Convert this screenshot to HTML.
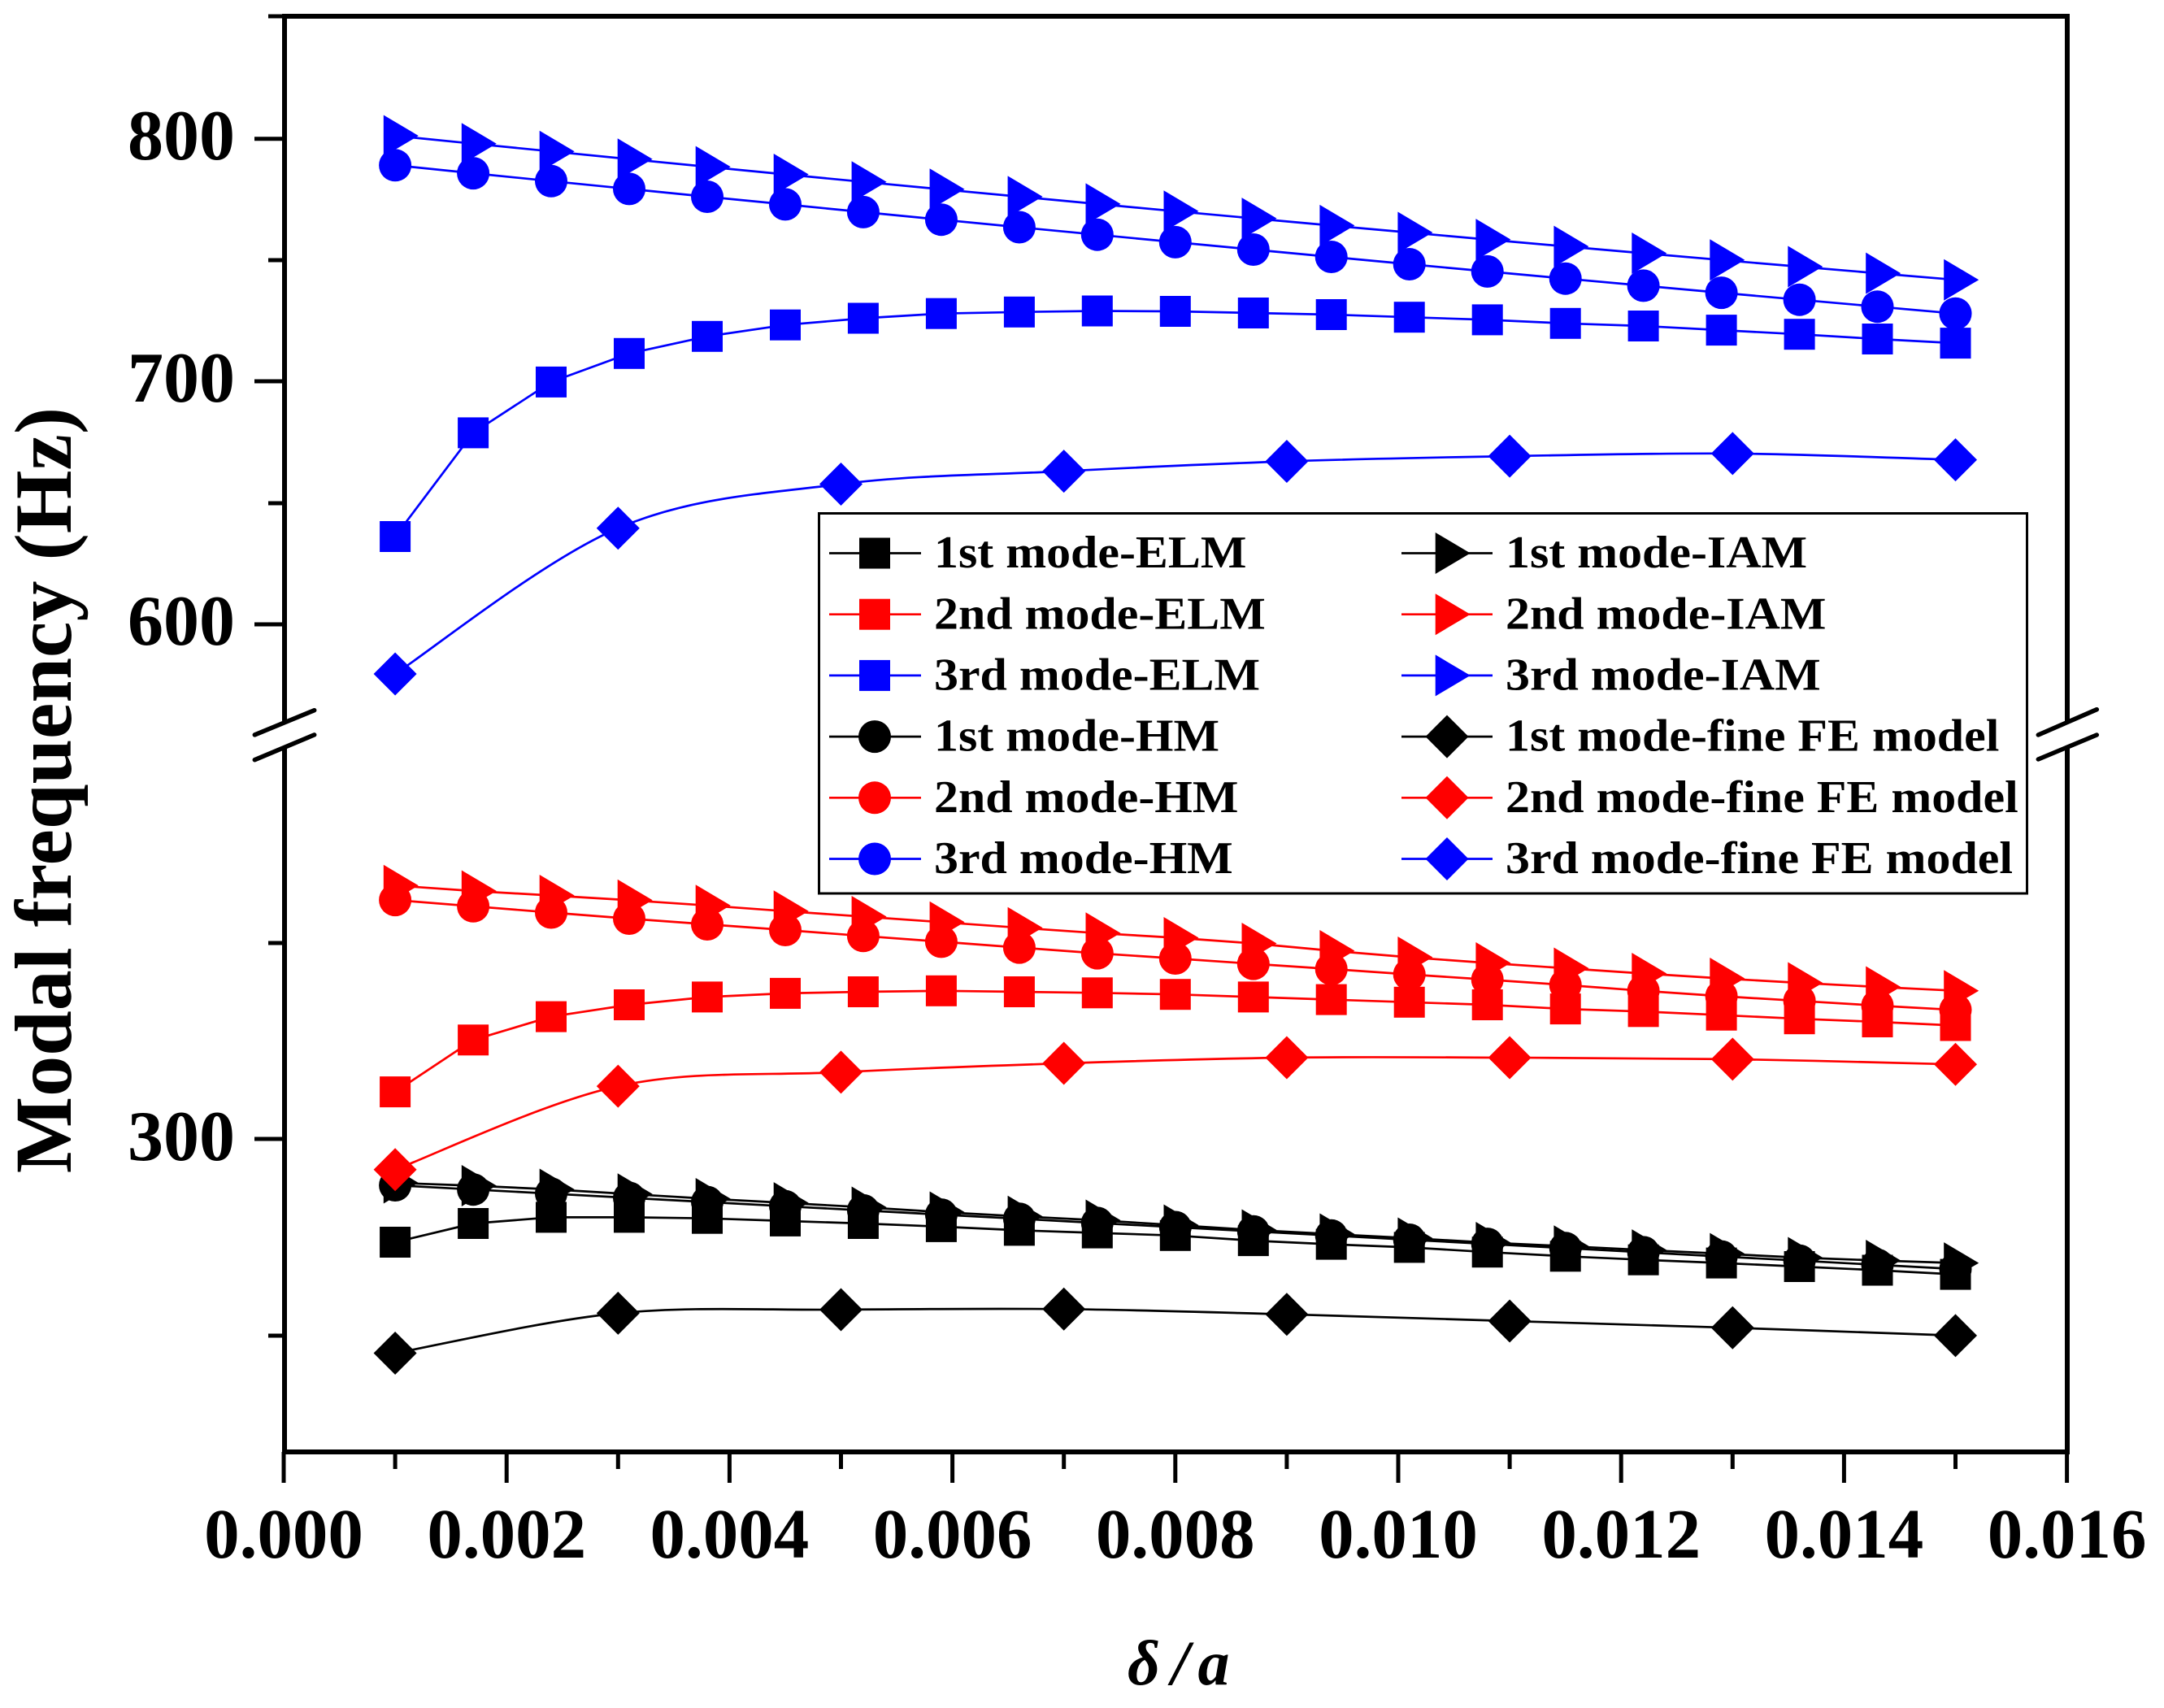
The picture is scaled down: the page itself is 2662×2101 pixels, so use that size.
<!DOCTYPE html>
<html>
<head>
<meta charset="utf-8">
<style>
html,body{margin:0;padding:0;background:#fff;}
svg{display:block;}
text{font-family:"Liberation Serif","DejaVu Serif",serif;font-weight:bold;}
</style>
</head>
<body>
<svg xmlns="http://www.w3.org/2000/svg" width="2662" height="2101" viewBox="0 0 2662 2101">
<defs>
<marker id="sqK" markerUnits="userSpaceOnUse" markerWidth="60" markerHeight="60" refX="30" refY="30" orient="0"><rect x="11" y="11" width="38" height="38" fill="#000"/></marker>
<marker id="sqR" markerUnits="userSpaceOnUse" markerWidth="60" markerHeight="60" refX="30" refY="30" orient="0"><rect x="11" y="11" width="38" height="38" fill="#f00"/></marker>
<marker id="sqB" markerUnits="userSpaceOnUse" markerWidth="60" markerHeight="60" refX="30" refY="30" orient="0"><rect x="11" y="11" width="38" height="38" fill="#00f"/></marker>
<marker id="ciK" markerUnits="userSpaceOnUse" markerWidth="60" markerHeight="60" refX="30" refY="30" orient="0"><circle cx="30" cy="30" r="20" fill="#000"/></marker>
<marker id="ciR" markerUnits="userSpaceOnUse" markerWidth="60" markerHeight="60" refX="30" refY="30" orient="0"><circle cx="30" cy="30" r="20" fill="#f00"/></marker>
<marker id="ciB" markerUnits="userSpaceOnUse" markerWidth="60" markerHeight="60" refX="30" refY="30" orient="0"><circle cx="30" cy="30" r="20" fill="#00f"/></marker>
<marker id="trK" markerUnits="userSpaceOnUse" markerWidth="60" markerHeight="60" refX="30" refY="30" orient="0"><polygon points="15.7,4.5 58.7,30 15.7,55.5" fill="#000"/></marker>
<marker id="trR" markerUnits="userSpaceOnUse" markerWidth="60" markerHeight="60" refX="30" refY="30" orient="0"><polygon points="15.7,4.5 58.7,30 15.7,55.5" fill="#f00"/></marker>
<marker id="trB" markerUnits="userSpaceOnUse" markerWidth="60" markerHeight="60" refX="30" refY="30" orient="0"><polygon points="15.7,4.5 58.7,30 15.7,55.5" fill="#00f"/></marker>
<marker id="diK" markerUnits="userSpaceOnUse" markerWidth="60" markerHeight="60" refX="30" refY="30" orient="0"><polygon points="30,3.5 56.5,30 30,56.5 3.5,30" fill="#000"/></marker>
<marker id="diR" markerUnits="userSpaceOnUse" markerWidth="60" markerHeight="60" refX="30" refY="30" orient="0"><polygon points="30,3.5 56.5,30 30,56.5 3.5,30" fill="#f00"/></marker>
<marker id="diB" markerUnits="userSpaceOnUse" markerWidth="60" markerHeight="60" refX="30" refY="30" orient="0"><polygon points="30,3.5 56.5,30 30,56.5 3.5,30" fill="#00f"/></marker>
</defs>

<rect x="0" y="0" width="2662" height="2101" fill="#fff"/>

<!-- Series: ELM -->
<g fill="none" stroke-width="2.7" stroke-linejoin="round">
<polyline stroke="#000" marker-start="url(#sqK)" marker-mid="url(#sqK)" marker-end="url(#sqK)" points="486.1,1528 582.1,1505 678.0,1497.4 774.0,1497.4 870.0,1498.7 966.0,1501.9 1061.9,1505 1157.9,1508.9 1253.9,1513.4 1349.8,1516.6 1445.8,1519.8 1541.8,1526.1 1637.7,1530.6 1733.7,1534.4 1829.7,1540.2 1925.7,1545.3 2021.6,1549.7 2117.6,1553.6 2213.6,1558 2309.5,1562.5 2405.5,1567.6"/>
<polyline stroke="#f00" marker-start="url(#sqR)" marker-mid="url(#sqR)" marker-end="url(#sqR)" points="486.1,1343.1 582.1,1279.3 678.0,1250.6 774.0,1236 870.0,1226.4 966.0,1221.9 1061.9,1220 1157.9,1218.8 1253.9,1220 1349.8,1221.3 1445.8,1223.2 1541.8,1226.4 1637.7,1229.6 1733.7,1232.8 1829.7,1236 1925.7,1241.1 2021.6,1244.3 2117.6,1248.7 2213.6,1253.2 2309.5,1257 2405.5,1261.5"/>
<polyline stroke="#00f" marker-start="url(#sqB)" marker-mid="url(#sqB)" marker-end="url(#sqB)" points="486.1,660 582.1,532.4 678.0,469.9 774.0,434.8 870.0,413.8 966.0,399.7 1061.9,391.5 1157.9,385.7 1253.9,383.8 1349.8,382.5 1445.8,383 1541.8,385 1637.7,387 1733.7,390.2 1829.7,393.4 1925.7,397.8 2021.6,401 2117.6,406.1 2213.6,411.2 2309.5,417 2405.5,422.1"/>

<!-- HM -->
<polyline stroke="#000" marker-start="url(#ciK)" marker-mid="url(#ciK)" marker-end="url(#ciK)" points="486.1,1458 582.1,1463.2 678.0,1468.3 774.0,1473.5 870.0,1478.6 966.0,1483.8 1061.9,1488.9 1157.9,1494.1 1253.9,1499.2 1349.8,1504.4 1445.8,1509.5 1541.8,1514.7 1637.7,1519.8 1733.7,1525 1829.7,1530.1 1925.7,1535.3 2021.6,1540.4 2117.6,1545.6 2213.6,1550.7 2309.5,1555.9 2405.5,1561"/>
<polyline stroke="#f00" marker-start="url(#ciR)" marker-mid="url(#ciR)" marker-end="url(#ciR)" points="486.1,1107.1 582.1,1114.8 678.0,1122.5 774.0,1130 870.0,1137 966.0,1144 1061.9,1151.3 1157.9,1158.4 1253.9,1165.6 1349.8,1172.6 1445.8,1179 1541.8,1185.6 1637.7,1192 1733.7,1198.6 1829.7,1205 1925.7,1211.6 2021.6,1218.8 2117.6,1225.4 2213.6,1231.2 2309.5,1237 2405.5,1242.3"/>
<polyline stroke="#00f" marker-start="url(#ciB)" marker-mid="url(#ciB)" marker-end="url(#ciB)" points="486.1,203.3 582.1,213.1 678.0,222.8 774.0,232.4 870.0,242 966.0,251.4 1061.9,260.9 1157.9,270.2 1253.9,279.5 1349.8,288.7 1445.8,297.9 1541.8,307 1637.7,316 1733.7,325 1829.7,333.9 1925.7,342.7 2021.6,351.4 2117.6,360.1 2213.6,368.7 2309.5,377.2 2405.5,385.7"/>

<!-- IAM -->
<polyline stroke="#000" marker-start="url(#trK)" marker-mid="url(#trK)" marker-end="url(#trK)" points="486.1,1455 582.1,1458.5 678.0,1463 774.0,1468.8 870.0,1474.5 966.0,1479.6 1061.9,1485 1157.9,1491 1253.9,1496.2 1349.8,1501 1445.8,1507 1541.8,1513 1637.7,1518 1733.7,1523 1829.7,1528.5 1925.7,1532.8 2021.6,1537.6 2117.6,1542.1 2213.6,1547 2309.5,1550.5 2405.5,1553.6"/>
<polyline stroke="#f00" marker-start="url(#trR)" marker-mid="url(#trR)" marker-end="url(#trR)" points="486.1,1089.3 582.1,1096 678.0,1101.5 774.0,1107.3 870.0,1113.8 966.0,1120.8 1061.9,1127.5 1157.9,1134.3 1253.9,1141.2 1349.8,1147.8 1445.8,1153.5 1541.8,1160.5 1637.7,1169.5 1733.7,1177.5 1829.7,1184.5 1925.7,1191 2021.6,1197.5 2117.6,1203.5 2213.6,1209 2309.5,1214 2405.5,1218.7"/>
<polyline stroke="#00f" marker-start="url(#trB)" marker-mid="url(#trB)" marker-end="url(#trB)" points="486.1,167 582.1,176.7 678.0,186.2 774.0,195.7 870.0,205.1 966.0,214.5 1061.9,223.7 1157.9,232.8 1253.9,241.9 1349.8,250.9 1445.8,259.8 1541.8,268.6 1637.7,277.4 1733.7,286 1829.7,294.6 1925.7,303.1 2021.6,311.5 2117.6,319.8 2213.6,328 2309.5,336.1 2405.5,344.2"/>

<!-- fine FE model (spline) -->
<path stroke="#000" marker-start="url(#diK)" marker-mid="url(#diK)" marker-end="url(#diK)" d="M486.1,1664.5 C531.8,1656.3 668.9,1624.3 760.3,1615.4 C851.7,1606.5 943.1,1611.9 1034.5,1611 C1125.9,1610.2 1217.3,1609.4 1308.7,1610.3 C1400.1,1611.3 1491.5,1614.3 1582.9,1616.7 C1674.3,1619.2 1765.7,1622.2 1857.1,1625 C1948.5,1627.8 2039.9,1630.3 2131.3,1633.3 C2222.7,1636.3 2359.8,1641.3 2405.5,1642.9"/>
<path stroke="#f00" marker-start="url(#diR)" marker-mid="url(#diR)" marker-end="url(#diR)" d="M486.1,1438.8 C531.8,1421.7 668.9,1356.1 760.3,1336.1 C851.7,1316.1 943.1,1323.6 1034.5,1318.9 C1125.9,1314.2 1217.3,1311 1308.7,1308 C1400.1,1305 1491.5,1302.2 1582.9,1301 C1674.3,1299.8 1765.7,1300.7 1857.1,1301 C1948.5,1301.3 2039.9,1301.5 2131.3,1302.9 C2222.7,1304.3 2359.8,1308.2 2405.5,1309.3"/>
<path stroke="#00f" marker-start="url(#diB)" marker-mid="url(#diB)" marker-end="url(#diB)" d="M486.1,829 C531.8,799.1 668.9,688.6 760.3,649.7 C851.7,610.8 943.1,607.2 1034.5,595.5 C1125.9,583.8 1217.3,584.3 1308.7,579.6 C1400.1,574.9 1491.5,570.6 1582.9,567.5 C1674.3,564.4 1765.7,562.7 1857.1,561.1 C1948.5,559.5 2039.9,557.2 2131.3,557.9 C2222.7,558.7 2359.8,564.3 2405.5,565.6"/>
</g>

<!-- Axes -->
<g stroke="#000" fill="none">
<line x1="347" y1="20" x2="2546" y2="20" stroke-width="6"/>
<line x1="347" y1="1786" x2="2546" y2="1786" stroke-width="6"/>
<line x1="350" y1="17" x2="350" y2="888.8" stroke-width="6"/>
<line x1="350" y1="919" x2="350" y2="1789" stroke-width="6"/>
<line x1="2543" y1="17" x2="2543" y2="888.5" stroke-width="6"/>
<line x1="2543" y1="919" x2="2543" y2="1789" stroke-width="6"/>
<!-- y ticks major -->
<g stroke-width="5">
<line x1="313" y1="170.8" x2="350" y2="170.8"/>
<line x1="313" y1="469" x2="350" y2="469"/>
<line x1="313" y1="768" x2="350" y2="768"/>
<line x1="313" y1="1401" x2="350" y2="1401"/>
<!-- y ticks minor -->
<line x1="330" y1="20" x2="350" y2="20"/>
<line x1="330" y1="320" x2="350" y2="320"/>
<line x1="330" y1="619" x2="350" y2="619"/>
<line x1="330" y1="1160" x2="350" y2="1160"/>
<line x1="330" y1="1643" x2="350" y2="1643"/>
<!-- x ticks major -->
<line x1="349" y1="1786" x2="349" y2="1824"/>
<line x1="623.2" y1="1786" x2="623.2" y2="1824"/>
<line x1="897.4" y1="1786" x2="897.4" y2="1824"/>
<line x1="1171.6" y1="1786" x2="1171.6" y2="1824"/>
<line x1="1445.8" y1="1786" x2="1445.8" y2="1824"/>
<line x1="1720" y1="1786" x2="1720" y2="1824"/>
<line x1="1994.2" y1="1786" x2="1994.2" y2="1824"/>
<line x1="2268.4" y1="1786" x2="2268.4" y2="1824"/>
<line x1="2542.6" y1="1786" x2="2542.6" y2="1824"/>
<!-- x ticks minor -->
<line x1="486.1" y1="1786" x2="486.1" y2="1807"/>
<line x1="760.3" y1="1786" x2="760.3" y2="1807"/>
<line x1="1034.5" y1="1786" x2="1034.5" y2="1807"/>
<line x1="1308.7" y1="1786" x2="1308.7" y2="1807"/>
<line x1="1582.9" y1="1786" x2="1582.9" y2="1807"/>
<line x1="1857.1" y1="1786" x2="1857.1" y2="1807"/>
<line x1="2131.3" y1="1786" x2="2131.3" y2="1807"/>
<line x1="2405.5" y1="1786" x2="2405.5" y2="1807"/>
</g>
<!-- axis breaks -->
<g stroke-width="5.5" stroke-linecap="round">
<line x1="313.3" y1="903.9" x2="386.7" y2="873.7"/>
<line x1="313.3" y1="934.7" x2="386.7" y2="903.9"/>
<line x1="2507.3" y1="904" x2="2579.3" y2="872.7"/>
<line x1="2507.3" y1="934" x2="2579.3" y2="904"/>
</g>
</g>

<!-- Y tick labels -->
<g font-size="88" text-anchor="end" fill="#000">
<text x="289" y="196">800</text>
<text x="289" y="494">700</text>
<text x="289" y="793">600</text>
<text x="289" y="1427">300</text>
</g>

<!-- X tick labels -->
<g font-size="87" text-anchor="middle" fill="#000">
<text x="349" y="1916">0.000</text>
<text x="623.2" y="1916">0.002</text>
<text x="897.4" y="1916">0.004</text>
<text x="1171.6" y="1916">0.006</text>
<text x="1445.8" y="1916">0.008</text>
<text x="1720" y="1916">0.010</text>
<text x="1994.2" y="1916">0.012</text>
<text x="2268.4" y="1916">0.014</text>
<text x="2542.6" y="1916">0.016</text>
</g>

<!-- Axis titles -->
<text font-size="100" text-anchor="middle" transform="translate(87,972) rotate(-90)">Modal frequency (Hz)</text>
<g font-size="78" font-style="italic" text-anchor="middle">
<text x="1407" y="2072">δ</text>
<text x="1452" y="2072">/</text>
<text x="1493" y="2072">a</text>
</g>

<!-- Legend -->
<rect x="1007.5" y="631.5" width="1486" height="467.5" fill="#fff" stroke="#000" stroke-width="3"/>
<g fill="none" stroke-width="2.7">
<polyline stroke="#000" marker-mid="url(#sqK)" points="1020,680.5 1076,680.5 1133,680.5"/>
<polyline stroke="#f00" marker-mid="url(#sqR)" points="1020,755.7 1076,755.7 1133,755.7"/>
<polyline stroke="#00f" marker-mid="url(#sqB)" points="1020,830.9 1076,830.9 1133,830.9"/>
<polyline stroke="#000" marker-mid="url(#ciK)" points="1020,906.1 1076,906.1 1133,906.1"/>
<polyline stroke="#f00" marker-mid="url(#ciR)" points="1020,981.3 1076,981.3 1133,981.3"/>
<polyline stroke="#00f" marker-mid="url(#ciB)" points="1020,1056.5 1076,1056.5 1133,1056.5"/>
<polyline stroke="#000" marker-mid="url(#trK)" points="1724,680.5 1780,680.5 1836,680.5"/>
<polyline stroke="#f00" marker-mid="url(#trR)" points="1724,755.7 1780,755.7 1836,755.7"/>
<polyline stroke="#00f" marker-mid="url(#trB)" points="1724,830.9 1780,830.9 1836,830.9"/>
<polyline stroke="#000" marker-mid="url(#diK)" points="1724,906.1 1780,906.1 1836,906.1"/>
<polyline stroke="#f00" marker-mid="url(#diR)" points="1724,981.3 1780,981.3 1836,981.3"/>
<polyline stroke="#00f" marker-mid="url(#diB)" points="1724,1056.5 1780,1056.5 1836,1056.5"/>
</g>
<g font-size="56" fill="#000">
<text transform="translate(1149,698.1) scale(1.07,1)">1st mode-ELM</text>
<text transform="translate(1149,773.3) scale(1.07,1)">2nd mode-ELM</text>
<text transform="translate(1149,848.5) scale(1.07,1)">3rd mode-ELM</text>
<text transform="translate(1149,923.7) scale(1.07,1)">1st mode-HM</text>
<text transform="translate(1149,998.9) scale(1.07,1)">2nd mode-HM</text>
<text transform="translate(1149,1074.1) scale(1.07,1)">3rd mode-HM</text>
<text transform="translate(1852,698.1) scale(1.07,1)">1st mode-IAM</text>
<text transform="translate(1852,773.3) scale(1.07,1)">2nd mode-IAM</text>
<text transform="translate(1852,848.5) scale(1.07,1)">3rd mode-IAM</text>
<text transform="translate(1852,923.7) scale(1.07,1)">1st mode-fine FE model</text>
<text transform="translate(1852,998.9) scale(1.07,1)">2nd mode-fine FE model</text>
<text transform="translate(1852,1074.1) scale(1.07,1)">3rd mode-fine FE model</text>
</g>
</svg>
</body>
</html>
